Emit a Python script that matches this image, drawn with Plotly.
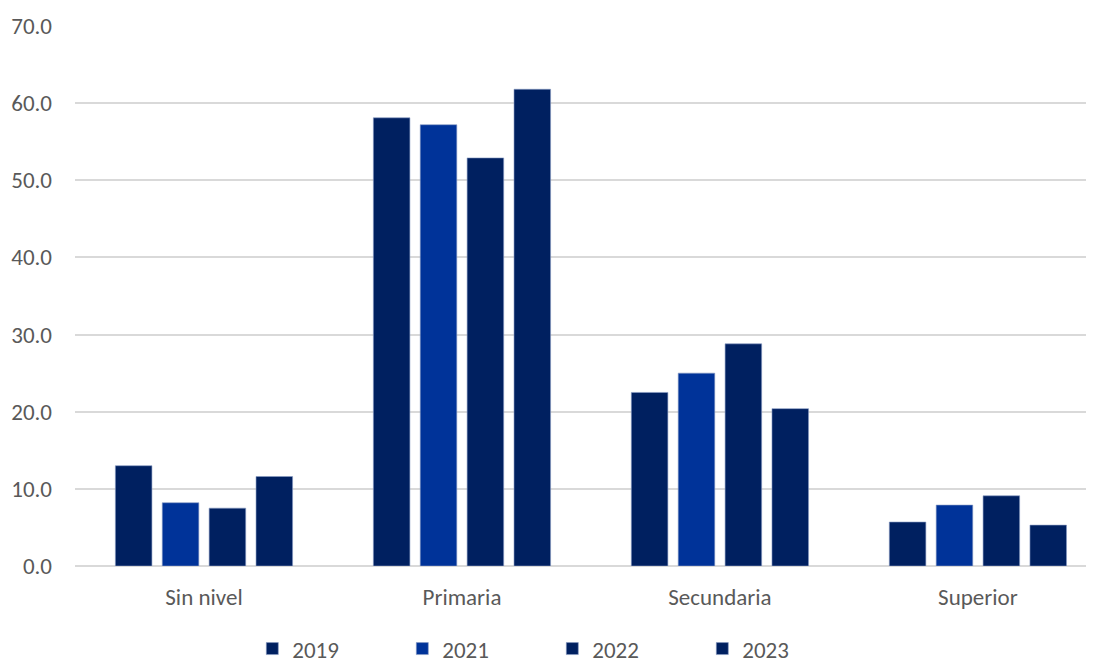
import plotly.graph_objects as go

categories = ["Sin nivel", "Primaria", "Secundaria", "Superior"]
years = ["2019", "2021", "2022", "2023"]
v2019 = [13.0, 58.1, 22.5, 5.7]
v2021 = [8.2, 57.2, 25.0, 7.9]
v2022 = [7.5, 52.9, 28.8, 9.1]
v2023 = [11.6, 61.8, 20.4, 5.3]
series = [v2019, v2021, v2022, v2023]
colors = ["#002060", "#003399", "#002060", "#002060"]

fig = go.Figure()
for name, vals, col in zip(years, series, colors):
    fig.add_trace(go.Bar(
        x=categories, y=vals, name=name,
        marker=dict(color=col, line=dict(color="#8a9cc4", width=0.6)),
    ))

font_family = "Carlito, Lato, 'Open Sans', sans-serif"
fs = 23
fig.update_layout(
    width=1086, height=659,
    margin=dict(l=67, r=0, t=18, b=101, autoexpand=False),
    paper_bgcolor="white", plot_bgcolor="white",
    barmode="group", bargap=0.273, bargroupgap=0.22,
    font=dict(family=font_family, size=fs, color="#595959"),
    showlegend=True,
    legend=dict(orientation="h", x=0.174, xanchor="left", y=-0.153, yanchor="middle",
                font=dict(size=fs, color="#595959"),
                entrywidth=105, entrywidthmode="pixels", traceorder="normal"),
    xaxis=dict(range=[-0.5, 3.45], showgrid=False, showline=False, ticks="",
               automargin=False, ticklabelstandoff=15,
               tickfont=dict(size=fs, color="#595959")),
    yaxis=dict(range=[0, 70], dtick=10, tickformat=".1f", showgrid=True,
               gridcolor="#d9d9d9", gridwidth=1.5, zeroline=True, zerolinecolor="#d9d9d9",
               zerolinewidth=1.5, showline=False, ticks="", ticklabelstandoff=22,
               automargin=False,
               tickfont=dict(size=fs, color="#595959")),
)

fig.write_html("out.html")
